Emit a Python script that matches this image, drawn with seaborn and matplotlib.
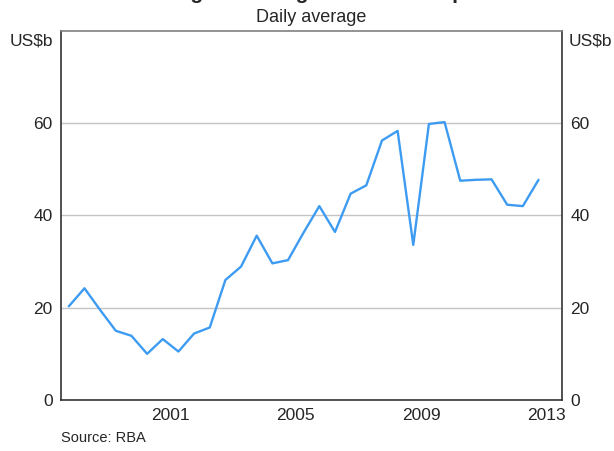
import pandas as pd
import seaborn as sns
import matplotlib.pyplot as plt
import numpy as np

# survey periods (April and October) and daily average turnover, US$b
periods = ['1998-04', '1998-10', '1999-04', '1999-10', '2000-04', '2000-10',
           '2001-04', '2001-10', '2002-04', '2002-10', '2003-04', '2003-10',
           '2004-04', '2004-10', '2005-04', '2005-10', '2006-04', '2006-10',
           '2007-04', '2007-10', '2008-04', '2008-10', '2009-04', '2009-10',
           '2010-04', '2010-10', '2011-04', '2011-10', '2012-04', '2012-10',
           '2013-04']
turnover = [20.3, 24.2, 19.5, 15.0, 13.9, 10.0,
            13.2, 10.5, 14.4, 15.7, 26.0, 28.9,
            35.6, 29.6, 30.3, 36.3, 42.0, 36.4,
            44.7, 46.5, 56.2, 58.3, 33.6, 59.8,
            60.2, 47.5, 47.7, 47.8, 42.3, 42.0,
            47.7]
year_labels = ['2001', '2005', '2009', '2013']
y_ticks = [0, 20, 40, 60]


def to_decimal_year(p):
    year, month = p.split('-')
    return int(year) + (int(month) - 1) / 12


df = pd.DataFrame({'period': periods, 'turnover': turnover})
df['x'] = df['period'].apply(to_decimal_year)

sns.set_style('white')
plt.rcParams['font.family'] = ['Liberation Sans', 'DejaVu Sans']

fig = plt.figure(figsize=(6.14, 4.51), dpi=100)
ax = fig.add_axes([61 / 614, 1 - 400 / 451, (562 - 61) / 614, (400 - 30.7) / 451])

sns.lineplot(data=df, x='x', y='turnover', ax=ax, color='#3d9cf2', linewidth=1.7)

ax.set_xlim(1998, 2014)
ax.set_ylim(0, 80)
ax.set_xlabel('')
ax.set_ylabel('')

# year boundary ticks (inside), labels centred in the year
ax.set_xticks(np.arange(1999, 2014))
ax.set_xticklabels([])
ax.tick_params(axis='x', which='major', direction='in', length=4.5, width=1, color='#333333')
ax.set_xticks([int(y) + 0.5 for y in year_labels], minor=True)
ax.set_xticklabels(year_labels, minor=True)
ax.tick_params(axis='x', which='minor', length=0, pad=6, labelsize=12.5)

ax.set_yticks(y_ticks)
ax.set_yticklabels([str(v) for v in y_ticks])
ax.tick_params(axis='y', length=0, labelsize=12.5, pad=6,
               left=True, right=True, labelleft=True, labelright=True)
ax.yaxis.grid(True, color='#c4c4c4', linewidth=1)
ax.xaxis.grid(False)

for side in ['left', 'bottom', 'right']:
    ax.spines[side].set_color('#333333')
    ax.spines[side].set_linewidth(1.2)
ax.spines['top'].set_color('#808080')
ax.spines['top'].set_linewidth(1.2)

fig.text(53 / 614, 1 - 40.7 / 451, 'US$b', ha='right', va='center', fontsize=12.5)
fig.text(569 / 614, 1 - 40.7 / 451, 'US$b', ha='left', va='center', fontsize=12.5)
fig.text(311.5 / 614, 1 - 21.7 / 451, 'Daily average', ha='center', va='baseline', fontsize=13)
# title sits mostly above the top edge, as in the reference crop
fig.text(311.5 / 614, 1 + 0.5 / 451, 'Foreign Exchange Turnover – Spot', ha='center',
         va='baseline', fontsize=15, fontweight='bold')
fig.text(61 / 614, 1 - 438 / 451, 'Source: RBA', ha='left', va='center', fontsize=10.5)

fig.savefig('out.png', dpi=100)
